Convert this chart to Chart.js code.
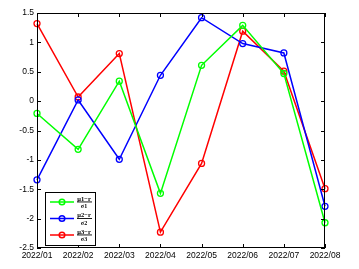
<!DOCTYPE html>
<html>
<head>
<meta charset="utf-8">
<script src="https://cdn.jsdelivr.net/npm/chart.js@4.4.1/dist/chart.umd.min.js"></script>
<style>
  html, body { margin: 0; padding: 0; background: #fff; }
  #wrap { width: 359px; height: 269px; }
</style>
</head>
<body>
<div id="wrap"><canvas id="chart" width="359" height="269"></canvas></div>
<script>
// Data
const months = ['2022/01', '2022/02', '2022/03', '2022/04', '2022/05', '2022/06', '2022/07', '2022/08'];
const ratio1 = [-0.21, -0.82, 0.34, -1.57, 0.61, 1.29, 0.47, -2.07];
const ratio2 = [-1.34, 0.02, -0.99, 0.44, 1.42, 0.98, 0.82, -1.79];
const ratio3 = [1.32, 0.07, 0.81, -2.23, -1.06, 1.19, 0.51, -1.49];
const yTicks = [-2.5, -2, -1.5, -1, -0.5, 0, 0.5, 1, 1.5];
const seriesNames = ['1', '2', '3'];
const seriesColors = ['#00ff00', '#0000ff', '#ff0000'];

const tickFont = { family: 'Liberation Sans, Arial, sans-serif', size: 8.5 };

// Box frame with inward ticks on all four sides (MATLAB style)
const frameTicks = {
    id: 'frameTicks',
    afterDraw(chart) {
        const ctx = chart.ctx;
        const a = chart.chartArea;
        const xs = chart.scales.x, ys = chart.scales.y;
        ctx.save();
        ctx.strokeStyle = '#000';
        ctx.lineWidth = 1;
        ctx.strokeRect(a.left + 0.5, a.top + 0.5, a.right - a.left - 1, a.bottom - a.top - 1);
        ctx.beginPath();
        months.forEach((m, i) => {
            const px = Math.round(xs.getPixelForValue(i)) + 0.5;
            ctx.moveTo(px, a.bottom); ctx.lineTo(px, a.bottom - 4);
            ctx.moveTo(px, a.top); ctx.lineTo(px, a.top + 4);
        });
        yTicks.forEach(v => {
            const py = Math.round(ys.getPixelForValue(v)) + 0.5;
            ctx.moveTo(a.left, py); ctx.lineTo(a.left + 4, py);
            ctx.moveTo(a.right, py); ctx.lineTo(a.right - 4, py);
        });
        ctx.stroke();
        ctx.restore();
    }
};

// Legend with fraction labels (mu_i - r) / sigma_i
const fracLegend = {
    id: 'fracLegend',
    afterDraw(chart) {
        const ctx = chart.ctx;
        const bx = 45, by = 192, bw = 50, bh = 53;
        ctx.save();
        ctx.fillStyle = '#fff';
        ctx.fillRect(bx, by, bw, bh);
        ctx.strokeStyle = '#000';
        ctx.lineWidth = 1;
        ctx.strokeRect(bx + 0.5, by + 0.5, bw, bh);
        seriesNames.forEach((n, i) => {
            const cy = by + 10 + i * 16.5;
            ctx.strokeStyle = seriesColors[i];
            ctx.lineWidth = 1.5;
            ctx.beginPath();
            ctx.moveTo(50, cy); ctx.lineTo(74, cy);
            ctx.stroke();
            ctx.beginPath();
            ctx.arc(62, cy, 2.8, 0, Math.PI * 2);
            ctx.stroke();
            ctx.fillStyle = '#000';
            ctx.textAlign = 'center';
            ctx.textBaseline = 'alphabetic';
            ctx.font = 'bold 6.5px Liberation Serif, serif';
            ctx.fillText('\u03bc' + n + '\u2212r', 84, cy - 1.5);
            ctx.fillRect(77, cy - 0.5, 15, 0.9);
            ctx.font = 'bold 6px Liberation Serif, serif';
            ctx.fillText('\u03c3' + n, 84, cy + 6);
        });
        ctx.restore();
    }
};

function makeSet(data, color) {
    return {
        data: data,
        borderColor: color,
        backgroundColor: 'rgba(0,0,0,0)',
        borderWidth: 1.5,
        pointRadius: 3,
        pointBorderWidth: 1.3,
        pointBorderColor: color,
        pointBackgroundColor: 'rgba(0,0,0,0)',
        tension: 0,
        fill: false
    };
}

new Chart(document.getElementById('chart'), {
    type: 'line',
    data: {
        labels: months,
        datasets: [makeSet(ratio1, seriesColors[0]), makeSet(ratio2, seriesColors[1]), makeSet(ratio3, seriesColors[2])]
    },
    options: {
        responsive: false,
        animation: false,
        layout: { padding: { top: 13, right: 34, left: 0, bottom: 0 } },
        plugins: { legend: { display: false }, tooltip: { enabled: false } },
        scales: {
            x: {
                type: 'category',
                offset: false,
                grid: { display: false, drawTicks: false },
                border: { display: false },
                ticks: { color: '#000', font: tickFont, padding: 3, maxRotation: 0, autoSkip: false },
                afterFit: s => { s.height = 21; }
            },
            y: {
                min: -2.5,
                max: 1.5,
                grid: { display: false, drawTicks: false },
                border: { display: false },
                afterBuildTicks: s => { s.ticks = yTicks.map(v => ({ value: v })); },
                ticks: { color: '#000', font: tickFont, padding: 3, callback: v => String(v) },
                afterFit: s => { s.width = 37; }
            }
        }
    },
    plugins: [frameTicks, fracLegend]
});
</script>
</body>
</html>
